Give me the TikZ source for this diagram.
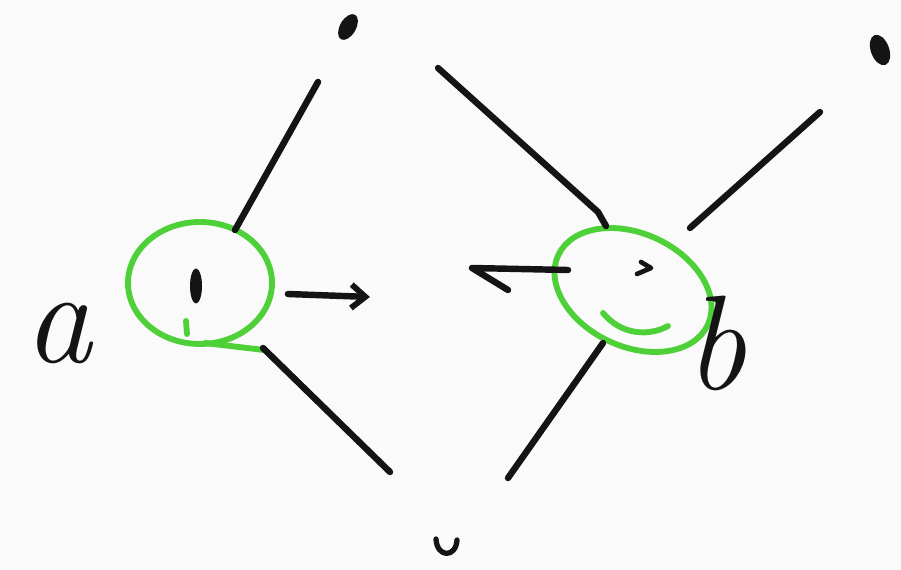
\documentclass[tikz,border=0pt]{standalone}
\usepackage{tikz}
\usetikzlibrary{shapes.geometric, arrows.meta, positioning, calc}
\definecolor{sketchgreen}{RGB}{78,208,56}
\definecolor{paper}{RGB}{250,250,250}

\begin{document}
\begin{tikzpicture}[
        x=0.03cm, y=-0.03cm,
        >=Stealth,
        pen/.style={line width=5.5pt, line cap=round, line join=round, draw=black!92},
        loop/.style={ellipse, draw=sketchgreen, line width=5pt, inner sep=0pt},
        greenpen/.style={line width=5pt, line cap=round, draw=sketchgreen},
        blob/.style={ellipse, fill=black!92, inner sep=0pt},
        letter/.style={font=\fontsize{115}{115}\selectfont\itshape, text=black!92, inner sep=0pt}
    ]

        % paper
        \fill[paper] (0,0) rectangle (901,570);
        \useasboundingbox (0,0) rectangle (901,570);

        % left vertex a
        \node[loop, minimum width=4.32cm, minimum height=3.66cm] (aloop) at (200,283) {};
        \node[blob, minimum width=0.36cm, minimum height=1.05cm] (adot) at (196,286) {};
        \draw[greenpen] (186,321) -- (187,334);
        \draw[greenpen] (205,343) -- (264,350);
        \node[letter] (alabel) at (58,333) {a};

        % right vertex b
        \node[loop, rotate=-25, minimum width=4.95cm, minimum height=3.39cm] (bloop) at (633,290) {};
        \draw[greenpen] (603,313) .. controls (622,336) and (650,336) .. (668,326);
        \draw[pen, line width=4pt] (641,262) -- (651,268) -- (637,274);
        \node[letter] (blabel) at (716,343) {b};

        % spokes
        \coordinate (atop) at (318,82);
        \coordinate (abot) at (390,472);
        \coordinate (btop) at (438,68);
        \coordinate (bright) at (820,112);
        \coordinate (bbot) at (508,478);
        \draw[pen] (235,230) -- (atop);
        \draw[pen] (263,348) -- (abot);
        \draw[pen] (btop) -- (598,212) -- (606,226);
        \draw[pen] (690,228) -- (bright);
        \draw[pen] (603,343) -- (bbot);

        % stray dots
        \node[blob, rotate=60, minimum width=0.85cm, minimum height=0.48cm] (dtop) at (348,27) {};
        \node[blob, rotate=-70, minimum width=0.95cm, minimum height=0.55cm] (dright) at (880,50) {};
        \draw[pen, line width=4.5pt] (436,539) .. controls (437,558) and (456,558) .. (457,540);

        % arrows
        \draw[pen, -{Straight Barb[length=12pt, width=20pt, line width=5pt]}]
            ([shift={(13,11)}]aloop.east) -- ++(82,3);
        \draw[pen] ([shift={(-65,-20)}]bloop.center) -- (472,268) -- (508,290);

    \end{tikzpicture}
\end{document}
